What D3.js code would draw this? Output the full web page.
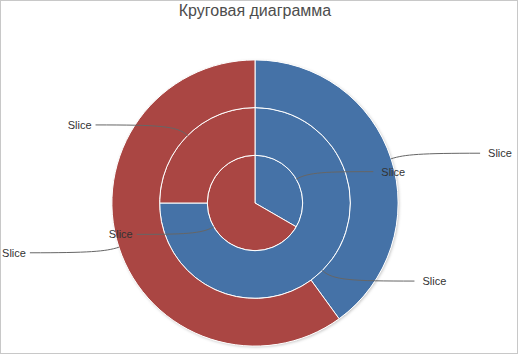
<!DOCTYPE html>
<html>
<head>
<meta charset="utf-8">
<script src="https://cdn.jsdelivr.net/npm/d3@7"></script>
<style>
  html, body { margin: 0; padding: 0; background: #fff; }
  svg { display: block; }
</style>
</head>
<body>
<svg id="chart"></svg>
<script>
// values per ring, first slice blue, second red
const title = "Круговая диаграмма";
const ringNames = ["inner", "middle", "outer"];
const innerValues = [1, 2];
const middleValues = [3, 1];
const outerValues = [2, 3];
const sliceLabels = ["Slice", "Slice"];
const sliceColors = ["#4572A7", "#AA4643"];

const size = {width: 518, height: 354};
const center = {x: 255, y: 203};
const ringWidth = 47.7;
const leaderLen = {inner: 77, middle: 92, outer: 89};

const svg = d3.select("#chart")
    .attr("width", size.width)
    .attr("height", size.height);

svg.append("rect")
    .attr("x", 0.5).attr("y", 0.5)
    .attr("width", size.width - 1).attr("height", size.height - 1)
    .attr("fill", "#fff")
    .attr("stroke", "#c8c8c8");

const defs = svg.append("defs");
const shadow = defs.append("filter").attr("id", "shadow")
    .attr("x", "-10%").attr("y", "-10%").attr("width", "120%").attr("height", "120%");
shadow.append("feDropShadow")
    .attr("dx", 1).attr("dy", 1).attr("stdDeviation", 1.5)
    .attr("flood-color", "#000").attr("flood-opacity", 0.25);

// Title
svg.append("text")
    .attr("x", size.width / 2 - 4)
    .attr("y", 16)
    .attr("text-anchor", "middle")
    .style("font-family", "'Liberation Sans', Arial, sans-serif")
    .style("font-size", "16px")
    .attr("fill", "#4d4d4d")
    .text(title);

const g = svg.append("g")
    .attr("transform", "translate(" + center.x + "," + center.y + ")");

const pie = d3.pie().sort(null).value(d => d);
const ringData = {inner: innerValues, middle: middleValues, outer: outerValues};

// outer shadow disc
g.append("circle")
    .attr("r", ringWidth * 3)
    .attr("fill", "#fff")
    .attr("filter", "url(#shadow)");

const labelItems = [];

ringNames.forEach(function(name, ri) {
    const r0 = ri * ringWidth;
    const r1 = (ri + 1) * ringWidth;
    const arc = d3.arc().innerRadius(r0).outerRadius(r1);
    const slices = pie(ringData[name]);

    g.append("g")
        .selectAll("path")
        .data(slices)
        .enter().append("path")
        .attr("d", arc)
        .attr("fill", (d, i) => sliceColors[i])
        .attr("stroke", "#fff")
        .attr("stroke-width", 1)
        .attr("stroke-linejoin", "round");

    slices.forEach(function(d, i) {
        labelItems.push({ring: name, r: r1, slice: d, label: sliceLabels[i]});
    });
});

// leader lines and labels on top
const lbl = g.append("g");
labelItems.forEach(function(item) {
    const a = (item.slice.startAngle + item.slice.endAngle) / 2;
    const sx = Math.sin(a), sy = -Math.cos(a);
    const side = sx >= 0 ? 1 : -1;
    const x0 = item.r * sx, y0 = item.r * sy;
    const y1 = (item.r + (item.ring === "outer" ? 18 : 15)) * sy;
    const x1 = x0 + side * leaderLen[item.ring];
    const path = d3.path();
    path.moveTo(x0, y0);
    path.bezierCurveTo(x0 + sx * 14, y0 + sy * 14, x0 + side * 30, y1, x1, y1);

    lbl.append("path")
        .attr("d", path.toString())
        .attr("fill", "none")
        .attr("stroke", "#666")
        .attr("stroke-width", 1);

    lbl.append("text")
        .attr("x", x1 + (side > 0 ? 8 : -4))
        .attr("y", y1)
        .attr("dy", "0.35em")
        .attr("text-anchor", side > 0 ? "start" : "end")
        .style("font-family", "'Liberation Sans', Arial, sans-serif")
        .style("font-size", "11px")
        .attr("fill", "#333")
        .text(item.label);
});
</script>
</body>
</html>
